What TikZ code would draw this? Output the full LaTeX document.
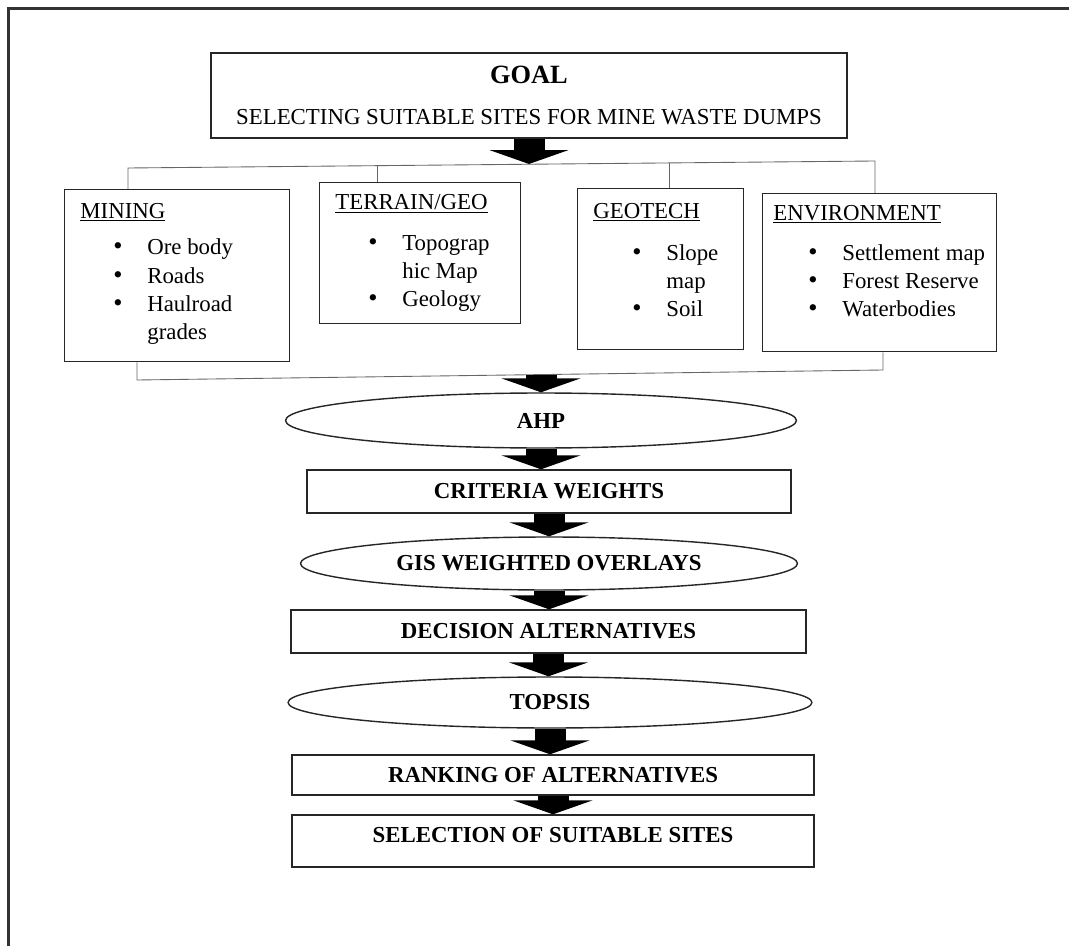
\documentclass[tikz,border=0pt]{standalone}
\usepackage{fontspec}
\setmainfont{Liberation Serif}
\usetikzlibrary{arrows.meta,shapes.geometric}

\newcommand{\bul}{{\fontsize{15}{16}\selectfont\textbullet}}

\begin{document}
\begin{tikzpicture}[
   x=0.02cm, y=-0.02cm, font=\fontsize{13}{16}\selectfont,
   catbox/.style={draw=black!85, line width=0.8pt, anchor=north west, inner sep=0pt},
   ttl/.style={anchor=base west, inner sep=0pt},
   lst/.style={anchor=base west, inner sep=0pt},
   flowbox/.style={draw=black!85, line width=0.8pt, inner sep=0pt, font=\fontsize{13}{16}\selectfont\bfseries},
   flowell/.style={flowbox, ellipse},
   blockarr/.style={line width=0.62cm, -{Triangle[width=1.58cm, length=0.28cm]}},
   bracket/.style={draw=black!60, line width=0.5pt}]
  \useasboundingbox (0,0) rectangle (1069,946);
  % frame
  \draw[line width=1.7pt, black!80] (8.5,946) -- (8.5,8.5) -- (1069,8.5);

  % goal
  \node[flowbox, font=\fontsize{13}{16}\selectfont, minimum width=12.72cm, minimum height=1.7cm, align=center]
     (goal) at (529,95.5) {{\fontsize{15}{16}\selectfont\bfseries GOAL}\\[7pt]SELECTING SUITABLE SITES FOR MINE WASTE DUMPS};

  % criteria groups
  \node[catbox, minimum width=4.5cm,  minimum height=3.44cm] (mining)  at (64,189)  {};
  \node[catbox, minimum width=4.02cm, minimum height=2.82cm] (terrain) at (319,182) {};
  \node[catbox, minimum width=3.32cm, minimum height=3.22cm] (geotech) at (577,188) {};
  \node[catbox, minimum width=4.68cm, minimum height=3.16cm] (env)     at (762,193) {};

  \node[ttl] (minT) at (80,218)  {\underline{MINING}};
  \node[ttl] (terT) at (335,210) {\underline{TERRAIN/GEO}};
  \node[ttl] (geoT) at (593,218) {\underline{GEOTECH}};
  \node[ttl] (envT) at (773,220) {\underline{ENVIRONMENT}};

  \node[lst] (minL) at (113,255) {\begin{tabular}[t]{@{}p{0.68cm}@{}l@{}}
     \bul & Ore body\\ \bul & Roads\\ \bul & Haulroad\\ & grades\end{tabular}};
  \node[lst] (terL) at (368,250) {\begin{tabular}[t]{@{}p{0.68cm}@{}l@{}}
     \bul & Topograp\\ & hic Map\\ \bul & Geology\end{tabular}};
  \node[lst] (geoL) at (632,260) {\begin{tabular}[t]{@{}p{0.68cm}@{}l@{}}
     \bul & Slope\\ & map\\ \bul & Soil\end{tabular}};
  \node[lst] (envL) at (808,260) {\begin{tabular}[t]{@{}p{0.68cm}@{}l@{}}
     \bul & Settlement map\\ \bul & Forest Reserve\\ \bul & Waterbodies\end{tabular}};

  % brackets
  \coordinate (tb1) at (128,168);
  \coordinate (tb2) at (377,165.7);
  \coordinate (tb3) at (669,162.9);
  \coordinate (tb4) at (875,161);
  \coordinate (bb1) at (137,380);
  \coordinate (bb2) at (883,370);
  \draw[bracket] (mining.north -| tb1) -- (tb1) -- (tb4) -- (env.north -| tb4);
  \draw[bracket] (tb2) -- (terrain.north -| tb2);
  \draw[bracket] (tb3) -- (geotech.north -| tb3);
  \draw[bracket] (mining.south -| bb1) -- (bb1) -- (bb2) -- (env.south -| bb2);

  % process chain
  \node[flowell, minimum width=10.22cm, minimum height=1.1cm]  (ahp)    at (541,420.5) {AHP};
  \node[flowbox, minimum width=9.68cm,  minimum height=0.86cm] (crit)   at (549,491.5) {CRITERIA WEIGHTS};
  \node[flowell, minimum width=9.94cm,  minimum height=1.06cm] (gis)    at (549,563.5) {GIS WEIGHTED OVERLAYS};
  \node[flowbox, minimum width=10.3cm,  minimum height=0.86cm] (dec)    at (548.5,631.5) {DECISION ALTERNATIVES};
  \node[flowell, minimum width=10.48cm, minimum height=1.02cm] (topsis) at (550,702.5) {TOPSIS};
  \node[flowbox, minimum width=10.44cm, minimum height=0.8cm]  (rank)   at (553,775) {RANKING OF ALTERNATIVES};
  \node[flowbox, minimum width=10.44cm, minimum height=1.04cm, text depth=0.24cm] (sel) at (553,841) {SELECTION OF SUITABLE SITES};

  \coordinate (gtip) at (529,164);
  \coordinate (jn) at (541,375);
  \draw[blockarr] (goal.south) -- (gtip);
  \draw[blockarr] (jn) -- (ahp.north);
  \draw[blockarr] (ahp.south)    -- (ahp.south |- crit.north);
  \draw[blockarr] (crit.south)   -- (crit.south |- gis.north);
  \draw[blockarr] (gis.south)    -- (gis.south |- dec.north);
  \draw[blockarr] (dec.south)    -- (dec.south |- topsis.north);
  \draw[blockarr] (topsis.south) -- (topsis.south |- rank.north);
  \draw[blockarr] (rank.south)   -- (rank.south |- sel.north);
\end{tikzpicture}
\end{document}
